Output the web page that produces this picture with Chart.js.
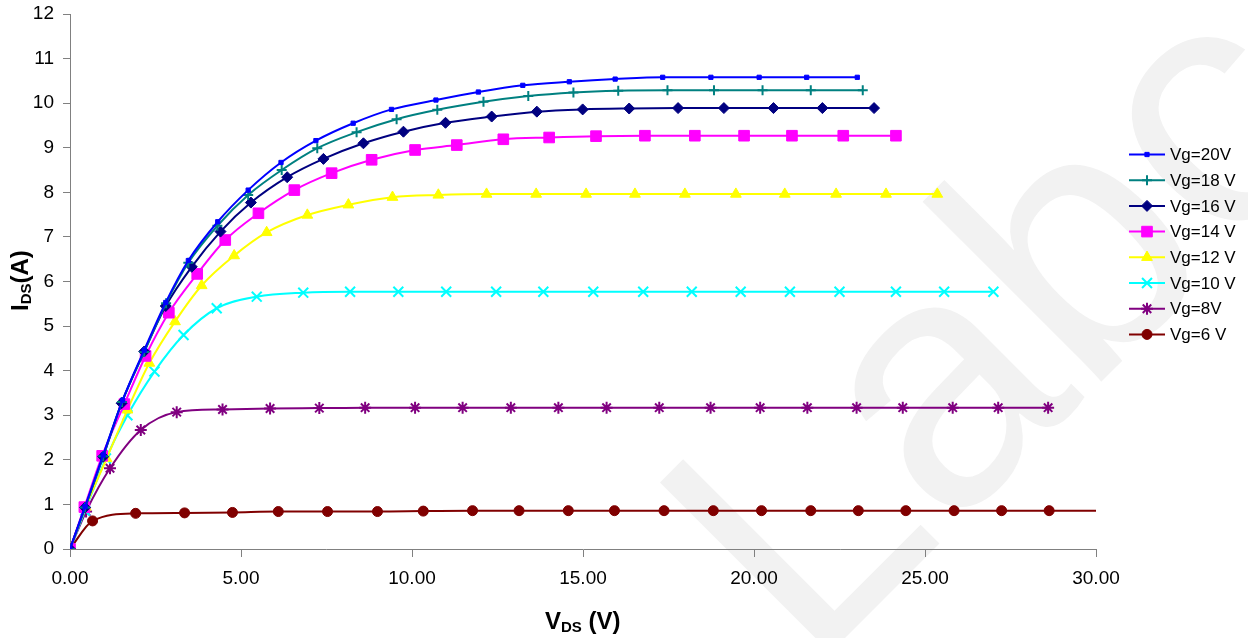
<!DOCTYPE html>
<html>
<head>
<meta charset="utf-8">
<title>IDS vs VDS</title>
<script src="https://cdn.jsdelivr.net/npm/chart.js@4.4.1/dist/chart.umd.min.js"></script>
<style>
  html, body { margin: 0; padding: 0; background: #fff; }
  #chart { display: block; }
</style>
</head>
<body>
<canvas id="chart" width="1248" height="638"></canvas>
<script>
// values, one pair of arrays per gate voltage
const seriesNames = ['Vg=20V', 'Vg=18 V', 'Vg=16 V', 'Vg=14 V', 'Vg=12 V', 'Vg=10 V', 'Vg=8V', 'Vg=6 V'];

const vdsVg20 = [0, 0.44, 0.97, 1.54, 2.17, 2.80, 3.46, 4.32, 5.21, 6.17, 7.19, 8.28, 9.40, 10.70, 11.94, 13.24, 14.60, 15.94, 17.33, 18.74, 20.15, 21.54, 23.02];
const idsVg20 = [0, 0.95, 2.11, 3.34, 4.46, 5.53, 6.47, 7.34, 8.05, 8.67, 9.16, 9.55, 9.86, 10.07, 10.25, 10.40, 10.48, 10.54, 10.58, 10.58, 10.58, 10.58, 10.58];

const vdsVg18 = [0, 0.44, 0.97, 1.52, 2.17, 2.81, 3.46, 4.31, 5.21, 6.19, 7.23, 8.38, 9.55, 10.74, 12.09, 13.40, 14.72, 16.03, 17.47, 18.83, 20.25, 21.66, 23.18];
const idsVg18 = [0, 0.93, 2.08, 3.30, 4.42, 5.51, 6.42, 7.25, 7.94, 8.50, 8.99, 9.35, 9.64, 9.85, 10.03, 10.16, 10.24, 10.28, 10.29, 10.29, 10.29, 10.29, 10.29];

const vdsVg16 = [0, 0.44, 0.97, 1.51, 2.17, 2.80, 3.56, 4.40, 5.29, 6.35, 7.41, 8.58, 9.75, 10.98, 12.33, 13.65, 14.99, 16.35, 17.78, 19.12, 20.57, 22.00, 23.51];
const idsVg16 = [0, 0.93, 2.07, 3.27, 4.43, 5.45, 6.33, 7.12, 7.77, 8.34, 8.75, 9.10, 9.36, 9.56, 9.70, 9.81, 9.86, 9.88, 9.89, 9.89, 9.89, 9.89, 9.89];

const vdsVg14 = [0, 0.42, 0.94, 1.59, 2.21, 2.89, 3.72, 4.54, 5.51, 6.56, 7.65, 8.82, 10.09, 11.31, 12.67, 14.01, 15.38, 16.81, 18.27, 19.71, 21.11, 22.61, 24.15];
const idsVg14 = [0, 0.94, 2.09, 3.25, 4.33, 5.30, 6.17, 6.93, 7.53, 8.05, 8.43, 8.73, 8.95, 9.06, 9.19, 9.23, 9.26, 9.27, 9.27, 9.27, 9.27, 9.27, 9.27];

const vdsVg12 = [0, 0.46, 1.07, 1.68, 2.32, 3.07, 3.85, 4.80, 5.75, 6.94, 8.14, 9.43, 10.77, 12.18, 13.63, 15.09, 16.52, 17.98, 19.47, 20.90, 22.40, 23.86, 25.36];
const idsVg12 = [0, 0.94, 2.03, 3.12, 4.17, 5.10, 5.91, 6.58, 7.10, 7.49, 7.72, 7.89, 7.94, 7.96, 7.96, 7.96, 7.96, 7.96, 7.96, 7.96, 7.96, 7.96, 7.96];

const vdsVg10 = [0, 0.44, 1.05, 1.68, 2.47, 3.32, 4.29, 5.46, 6.82, 8.19, 9.60, 11.00, 12.46, 13.84, 15.30, 16.76, 18.18, 19.61, 21.05, 22.50, 24.15, 25.56, 27.00];
const idsVg10 = [0, 0.86, 2.03, 3.00, 3.98, 4.80, 5.40, 5.66, 5.75, 5.77, 5.77, 5.77, 5.77, 5.77, 5.77, 5.77, 5.77, 5.77, 5.77, 5.77, 5.77, 5.77, 5.77];

const vdsVg8 = [0, 0.47, 1.17, 2.07, 3.12, 4.46, 5.85, 7.29, 8.63, 10.09, 11.48, 12.89, 14.28, 15.69, 17.23, 18.73, 20.18, 21.56, 23.00, 24.35, 25.81, 27.14, 28.60];
const idsVg8 = [0, 0.84, 1.81, 2.67, 3.07, 3.13, 3.15, 3.16, 3.17, 3.17, 3.17, 3.17, 3.17, 3.17, 3.17, 3.17, 3.17, 3.17, 3.17, 3.17, 3.17, 3.17, 3.17];

const vdsVg6 = [0, 0.66, 1.92, 3.35, 4.75, 6.09, 7.53, 8.99, 10.33, 11.77, 13.13, 14.57, 15.92, 17.37, 18.81, 20.22, 21.66, 23.05, 24.44, 25.85, 27.24, 28.63, 30.05];
const idsVg6 = [0, 0.63, 0.80, 0.81, 0.82, 0.84, 0.84, 0.84, 0.85, 0.86, 0.86, 0.86, 0.86, 0.86, 0.86, 0.86, 0.86, 0.86, 0.86, 0.86, 0.86, 0.86, 0.86];

const xTicks = [0, 5, 10, 15, 20, 25, 30];
const yTicks = [0, 1, 2, 3, 4, 5, 6, 7, 8, 9, 10, 11, 12];

const vdsList = [vdsVg20, vdsVg18, vdsVg16, vdsVg14, vdsVg12, vdsVg10, vdsVg8, vdsVg6];
const idsList = [idsVg20, idsVg18, idsVg16, idsVg14, idsVg12, idsVg10, idsVg8, idsVg6];

// marker looks, roughly the Excel defaults
const styles = [
    { color: '#0000FF', point: 'rect', r: 3, bw: 1 },
    { color: '#008080', point: 'cross', r: 5, bw: 2 },
    { color: '#000080', point: 'rectRot', r: 5.5, bw: 1 },
    { color: '#FF00FF', point: 'rect', r: 7.5, bw: 1 },
    { color: '#FFFF00', point: 'triangle', r: 6.2, bw: 1 },
    { color: '#00FFFF', point: 'crossRot', r: 7, bw: 2 },
    { color: '#800080', point: 'star', r: 6, bw: 2 },
    { color: '#800000', point: 'circle', r: 5, bw: 1 }
];

const datasets = seriesNames.map((name, i) => {
    const st = styles[i];
    return {
        label: name,
        data: vdsList[i].map((v, j) => ({ x: v, y: idsList[i][j] })),
        borderColor: st.color,
        backgroundColor: st.color,
        pointStyle: st.point,
        pointRadius: ctx => (ctx.raw && ctx.raw.x > 30) ? 0 : st.r,
        pointBorderWidth: st.bw,
        pointBackgroundColor: st.color,
        pointBorderColor: st.color,
        borderWidth: 2,
        fill: false,
        cubicInterpolationMode: 'monotone'
    };
});

const font = 'Arial, "Liberation Sans", sans-serif';

const excelBits = {
    id: 'excelBits',
    beforeDraw(chart) {
        const ctx = chart.ctx;
        ctx.save();
        ctx.fillStyle = '#ffffff';
        ctx.fillRect(0, 0, chart.width, chart.height);
        // faint watermark behind everything
        ctx.translate(810, 673);
        ctx.rotate(-Math.PI / 4);
        ctx.fillStyle = '#f2f2f2';
        ctx.font = '350px ' + font;
        ctx.textBaseline = 'alphabetic';
        ctx.textAlign = 'left';
        ctx.fillText('Labcenter', 0, 0);
        ctx.restore();
    },
    afterDraw(chart) {
        const ctx = chart.ctx;
        ctx.save();
        ctx.fillStyle = '#000';
        ctx.textBaseline = 'alphabetic';
        ctx.textAlign = 'left';

        // x axis title: V_DS (V)
        let x = 545;
        const yb = 629;
        ctx.font = 'bold 24px ' + font;
        ctx.fillText('V', x, yb);
        x += ctx.measureText('V').width;
        ctx.font = 'bold 15px ' + font;
        ctx.fillText('DS', x, yb + 3);
        x += ctx.measureText('DS').width;
        ctx.font = 'bold 24px ' + font;
        ctx.fillText(' (V)', x, yb);

        // y axis title: I_DS (A), rotated
        ctx.save();
        ctx.translate(28, 311);
        ctx.rotate(-Math.PI / 2);
        let t = 0;
        ctx.font = 'bold 24px ' + font;
        ctx.fillText('I', t, 0);
        t += ctx.measureText('I').width;
        ctx.font = 'bold 15px ' + font;
        ctx.fillText('DS', t, 3);
        t += ctx.measureText('DS').width;
        ctx.font = 'bold 24px ' + font;
        ctx.fillText('(A)', t, 0);
        ctx.restore();

        // legend: line with marker, then label
        ctx.font = '17px ' + font;
        ctx.textBaseline = 'middle';
        seriesNames.forEach((name, i) => {
            const st = styles[i];
            const ly = 154.5 + i * 25.7;
            ctx.strokeStyle = st.color;
            ctx.lineWidth = 2;
            ctx.beginPath();
            ctx.moveTo(1129, ly);
            ctx.lineTo(1165, ly);
            ctx.stroke();
            ctx.fillStyle = st.color;
            ctx.lineWidth = st.bw;
            Chart.helpers.drawPoint(ctx, { pointStyle: st.point, radius: st.r, rotation: 0, borderWidth: st.bw }, 1147, ly);
            ctx.fillStyle = '#000';
            ctx.fillText(name, 1170, ly + 1);
        });
        ctx.restore();
    }
};

new Chart(document.getElementById('chart'), {
    type: 'line',
    data: { datasets: datasets },
    options: {
        responsive: false,
        animation: false,
        devicePixelRatio: 1,
        layout: { padding: { left: 0, right: 152, top: 14, bottom: 0 } },
        plugins: {
            legend: { display: false },
            tooltip: { enabled: false }
        },
        scales: {
            x: {
                type: 'linear',
                min: 0,
                max: 30,
                afterBuildTicks: axis => { axis.ticks = xTicks.map(v => ({ value: v })); },
                afterFit: axis => { axis.height = 89; axis.paddingLeft = 0; axis.paddingRight = 0; },
                grid: { drawOnChartArea: false, color: '#808080', tickLength: 8 },
                border: { color: '#808080', width: 1 },
                ticks: {
                    color: '#000',
                    font: { family: font, size: 19 },
                    padding: 10,
                    maxRotation: 0,
                    callback: v => Number(v).toFixed(2)
                }
            },
            y: {
                type: 'linear',
                min: 0,
                max: 12,
                afterBuildTicks: axis => { axis.ticks = yTicks.map(v => ({ value: v })); },
                afterFit: axis => { axis.width = 70; axis.paddingTop = 0; axis.paddingBottom = 0; },
                grid: { drawOnChartArea: false, color: '#808080', tickLength: 7 },
                border: { color: '#808080', width: 1 },
                ticks: {
                    color: '#000',
                    font: { family: font, size: 19 },
                    padding: 9
                }
            }
        }
    },
    plugins: [excelBits]
});
</script>
</body>
</html>
